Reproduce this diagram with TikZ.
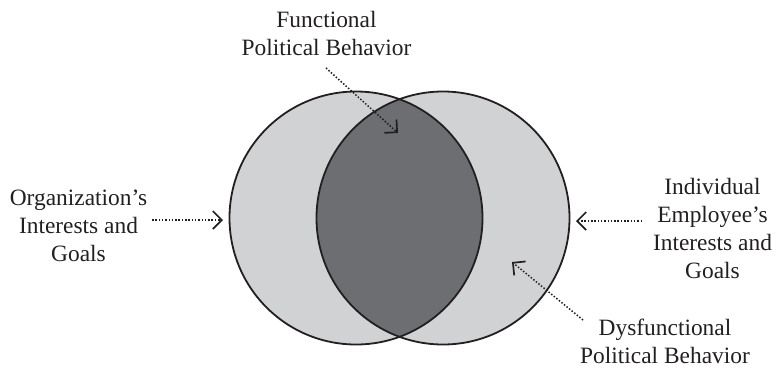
\documentclass[tikz,border=0pt]{standalone}
\usepackage{fontspec}
\setmainfont{Liberation Serif}
\usetikzlibrary{arrows.meta}
\definecolor{lightfill}{RGB}{209,210,212}
\definecolor{darkfill}{RGB}{109,110,113}
\definecolor{inkc}{RGB}{35,31,32}
\tikzset{
  lbl/.style={align=center, inner sep=0pt, anchor=base, text=inkc,
    font=\fontsize{23.4}{28}\selectfont},
  ring/.style={draw=inkc, line width=1.8pt},
  pointer/.style={draw=inkc, line width=1.5pt, dash pattern=on 1.5pt off 1.8pt,
    -{Straight Barb[length=9pt, width=18pt, line width=1.7pt, sep=0pt]}},
}
\begin{document}
\begin{tikzpicture}[x=1pt, y=-1pt]
\useasboundingbox (0,0) rectangle (776,368);
% circles
\coordinate (cl) at (356,218);
\coordinate (cr) at (443,218);
\fill[lightfill] (cl) circle (126.5);
\fill[lightfill] (cr) circle (126.5);
\begin{scope}
  \clip (cl) circle (126.5);
  \fill[darkfill] (cr) circle (126.5);
\end{scope}
\draw[ring] (cl) circle (126.5);
\draw[ring] (cr) circle (126.5);
% labels (anchor = baseline of the last line)
\node[lbl] (func) at (326.5,55) {Functional\\Political Behavior};
\node[lbl] (org) at (78.5,261.5) {Organization’s\\Interests and\\Goals};
\node[lbl] (indiv) at (712.5,278.3) {Individual\\Employee’s\\Interests and\\Goals};
\node[lbl] (dysf) at (665,363) {Dysfunctional\\Political Behavior};
% arrow end points
\coordinate (funcS) at (326,68);
\coordinate (funcT) at (398,133);
\coordinate (orgS) at (152,220);
\coordinate (orgT) at (223,220);
\coordinate (indS) at (642,221);
\coordinate (indT) at (576,221);
\coordinate (dysS) at (583,320);
\coordinate (dysT) at (512,262);
\draw[pointer] (funcS) -- (funcT);
\draw[pointer] (orgS) -- (orgT);
\draw[pointer] (indS) -- (indT);
\draw[pointer] (dysS) -- (dysT);
\end{tikzpicture}
\end{document}
